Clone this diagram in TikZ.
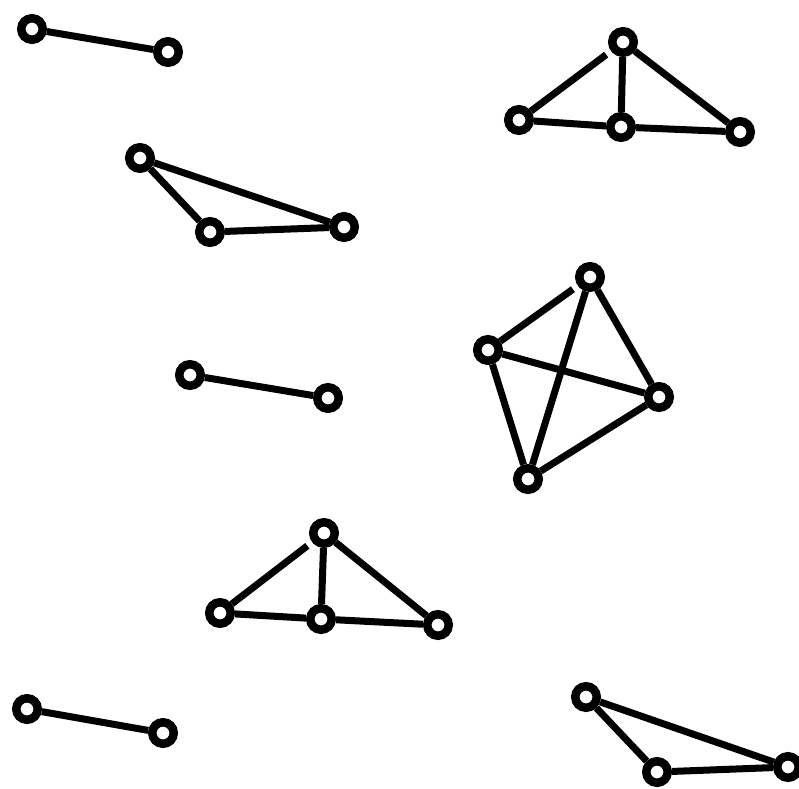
\documentclass[tikz,border=0pt]{standalone}
\tikzset{
  vtx/.style={circle,draw,fill=white,line width=8.5pt,inner sep=0pt,minimum size=21.5pt},
  edg/.style={line width=7pt},
  gapped/.style={edg,shorten >=6pt}
}
\begin{document}
\begin{tikzpicture}[x=1pt,y=-1pt]
\useasboundingbox (0,0) rectangle (799,788);
\clip (0,0) rectangle (799,788);
% group 1
\node[vtx] (a1) at (32,29) {};
\node[vtx] (a2) at (168,52) {};
% group 2
\node[vtx] (b1) at (623,42) {};
\node[vtx] (b2) at (519,120) {};
\node[vtx] (b3) at (621,127) {};
\node[vtx] (b4) at (740,132) {};
% group 3
\node[vtx] (c1) at (140,158) {};
\node[vtx] (c2) at (210,232) {};
\node[vtx] (c3) at (344,227) {};
% group 4
\node[vtx] (d1) at (190,375) {};
\node[vtx] (d2) at (328,398) {};
% group 5
\node[vtx] (e1) at (590,277) {};
\node[vtx] (e2) at (488,350) {};
\node[vtx] (e3) at (659,397) {};
\node[vtx] (e4) at (528,479) {};
% group 6
\node[vtx] (f1) at (324,533) {};
\node[vtx] (f2) at (220,613) {};
\node[vtx] (f3) at (321,619) {};
\node[vtx] (f4) at (438,625) {};
% group 7
\node[vtx] (g1) at (27,709) {};
\node[vtx] (g2) at (163,733) {};
% group 8
\node[vtx] (h1) at (586,697) {};
\node[vtx] (h2) at (657,772) {};
\node[vtx] (h3) at (788,767) {};
% edges
\draw[edg] (a1) -- (a2);
\draw[gapped] (b2) -- (b1);
\draw[edg] (b1) -- (b3);
\draw[edg] (b1) -- (b4);
\draw[edg] (b2) -- (b3);
\draw[edg] (b3) -- (b4);
\draw[edg] (c1) -- (c2);
\draw[edg] (c1) -- (c3);
\draw[edg] (c2) -- (c3);
\draw[edg] (d1) -- (d2);
\draw[gapped] (e2) -- (e1);
\draw[edg] (e1) -- (e3);
\draw[edg] (e1) -- (e4);
\draw[edg] (e2) -- (e3);
\draw[edg] (e2) -- (e4);
\draw[edg] (e3) -- (e4);
\draw[gapped] (f2) -- (f1);
\draw[edg] (f1) -- (f3);
\draw[edg] (f1) -- (f4);
\draw[edg] (f2) -- (f3);
\draw[edg] (f3) -- (f4);
\draw[edg] (g1) -- (g2);
\draw[edg] (h1) -- (h2);
\draw[edg] (h1) -- (h3);
\draw[edg] (h2) -- (h3);
\end{tikzpicture}
\end{document}
